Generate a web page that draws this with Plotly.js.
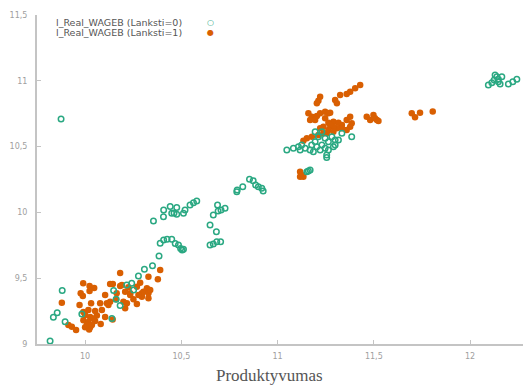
<!DOCTYPE html>
<html>
<head>
<meta charset="utf-8">
<script src="https://cdn.plot.ly/plotly-3.0.1.min.js"></script>
<style>html,body{margin:0;padding:0;background:#fff;}#chart{width:523px;height:387px;}</style>
</head>
<body>
<div id="chart"></div>
<script>
// Series Lanksti=0 (open green circles)
const x0 = [9.818,9.835,9.855,9.881,9.896,9.983,10.148,10.161,10.182,10.216,10.242,10.252,10.277,10.308,10.350,10.384,10.139,
  10.390,10.408,10.426,10.450,10.468,10.485,10.496,10.504,10.511,10.649,10.666,10.684,10.704,
  10.355,10.407,10.408,10.442,10.450,10.462,10.476,10.476,10.511,10.519,10.545,10.563,10.580,10.649,10.682,10.666,10.688,10.706,10.727,10.691,
  10.788,10.790,10.819,10.854,10.873,10.886,10.900,10.918,10.925,
  9.875,
  11.048,11.082,11.108,11.125,11.117,11.143,11.169,11.186,11.177,11.195,11.195,11.230,11.212,11.247,11.264,11.282,11.299,11.316,11.334,11.385,11.230,11.247,11.221,11.204,11.264,11.290,11.255,11.255,11.299,11.160,11.169,11.152,
  12.095,12.113,12.130,12.139,12.125,12.147,12.156,12.165,12.199,12.222,12.243,12.147];
const y0 = [9.023,9.203,9.238,9.407,9.169,9.228,9.407,9.340,9.293,9.448,9.461,9.410,9.517,9.568,9.595,9.669,9.194,
  9.765,9.790,9.796,9.796,9.764,9.752,9.726,9.714,9.720,9.752,9.760,9.777,9.777,
  9.935,9.967,10.018,10.045,9.993,9.995,10.037,9.986,9.993,10.018,10.056,10.074,10.087,9.904,9.853,9.980,10.056,10.018,10.031,10.011,
  10.157,10.170,10.195,10.252,10.241,10.208,10.195,10.183,10.163,
  10.710,
  10.474,10.487,10.499,10.512,10.474,10.487,10.474,10.461,10.512,10.537,10.613,10.613,10.575,10.563,10.537,10.575,10.550,10.550,10.601,10.575,10.512,10.487,10.474,10.499,10.474,10.499,10.436,10.417,10.512,10.315,10.322,10.309,
  10.968,10.986,11.044,11.031,11.006,10.993,10.976,11.031,10.976,10.993,11.011,11.011];

// Series Lanksti=1 (filled orange circles)
const x1 = [9.879,9.913,9.931,9.953,9.990,10.023,10.047,9.977,9.988,10.023,10.130,10.182,10.182,10.164,10.104,9.971,10.031,10.078,10.113,10.130,10.121,
  10.017,10.052,10.087,10.000,10.026,10.061,10.104,9.991,10.017,10.052,10.081,10.000,10.026,10.021,10.143,10.009,10.035,9.991,10.042,
  10.208,10.217,10.199,10.161,10.208,10.225,10.234,10.234,10.251,10.269,10.269,10.286,10.295,10.295,10.303,10.321,10.329,10.329,10.329,10.338,10.378,10.390,10.277,10.191,10.144,
  11.429,11.403,11.377,11.359,11.325,11.299,11.308,11.221,11.212,11.204,11.160,11.178,11.204,11.221,11.247,11.264,11.273,11.169,11.195,11.247,11.264,11.290,11.316,11.334,11.359,11.377,11.385,11.377,11.359,11.334,11.308,11.290,11.273,11.264,11.255,11.238,11.212,11.178,11.152,11.134,
  11.463,11.481,11.516,11.498,11.290,11.238,11.221,11.117,11.126,11.134,11.117,11.697,11.714,11.740,11.806,11.506,11.524];
const y1 = [9.314,9.144,9.131,9.106,9.461,9.441,9.426,9.385,9.365,9.403,9.456,9.540,9.441,9.385,9.372,9.296,9.309,9.309,9.309,9.321,9.296,
  9.258,9.251,9.258,9.220,9.205,9.217,9.205,9.180,9.167,9.175,9.152,9.127,9.127,9.110,9.186,9.144,9.144,9.243,9.194,
  9.271,9.309,9.321,9.340,9.397,9.431,9.385,9.372,9.340,9.435,9.304,9.466,9.385,9.359,9.397,9.423,9.511,9.385,9.347,9.410,9.492,9.562,9.372,9.448,9.456,
  10.968,10.943,10.917,10.900,10.892,10.854,10.829,10.879,10.849,10.829,10.753,10.727,10.733,10.753,10.765,10.753,10.758,10.702,10.702,10.715,10.682,10.689,10.682,10.664,10.702,10.727,10.677,10.651,10.626,10.639,10.639,10.651,10.664,10.626,10.601,10.601,10.588,10.575,10.563,10.545,
  10.727,10.702,10.702,10.740,10.613,10.651,10.639,10.309,10.284,10.271,10.271,10.753,10.723,10.758,10.767,10.715,10.695];

const name0 = 'l_Real_WAGEB (Lanksti=0)';
const name1 = 'l_Real_WAGEB (Lanksti=1)';
const xTitle = 'Produktyvumas';
const green = '#2aa882';
const orange = '#d95f02';

const traces = [
  {x: x1, y: y1, type: 'scatter', mode: 'markers', name: name1,
   marker: {symbol: 'circle', size: 6.5, color: orange, line: {width: 0}}, cliponaxis: false},
  {x: x0, y: y0, type: 'scatter', mode: 'markers', name: name0,
   marker: {symbol: 'circle-open', size: 5.5, color: green, line: {width: 1.5, color: green}}, cliponaxis: false}
];

const axisCommon = {
  showgrid: false, zeroline: false, showline: true, linecolor: '#c4c4c4', linewidth: 2,
  ticks: 'inside', ticklen: 4, tickwidth: 1, tickcolor: '#c4c4c4',
  tickfont: {family: 'DejaVu Sans', size: 8, color: '#a0a0a0'}, dtick: 0.5
};

const layout = {
  width: 523, height: 387,
  margin: {l: 37, r: 0, t: 15, b: 43},
  paper_bgcolor: '#fff', plot_bgcolor: '#fff',
  separators: ', ',
  showlegend: false,
  xaxis: Object.assign({}, axisCommon, {range: [9.75, 12.275], tick0: 10, ticklabelstandoff: 3}),
  yaxis: Object.assign({}, axisCommon, {range: [9, 11.5], tick0: 9, ticklabelstandoff: 6}),
  annotations: [
    {xref: 'paper', yref: 'paper', x: 0.479, y: -0.097, xanchor: 'center', yanchor: 'middle', showarrow: false,
     text: xTitle, font: {family: 'Liberation Serif', size: 17, color: '#555'}},
    {xref: 'paper', yref: 'paper', x: 0.035, y: 0.976, xanchor: 'left', yanchor: 'middle', showarrow: false,
     text: name0, font: {family: 'DejaVu Sans', size: 9.5, color: '#555'}},
    {xref: 'paper', yref: 'paper', x: 0.035, y: 0.946, xanchor: 'left', yanchor: 'middle', showarrow: false,
     text: name1, font: {family: 'DejaVu Sans', size: 9.5, color: '#555'}},
    {xref: 'paper', yref: 'paper', x: 0.356, y: 0.976, xanchor: 'center', yanchor: 'middle', showarrow: false,
     text: '○', font: {family: 'DejaVu Sans', size: 8, color: green}},
    {xref: 'paper', yref: 'paper', x: 0.356, y: 0.946, xanchor: 'center', yanchor: 'middle', showarrow: false,
     text: '●', font: {family: 'DejaVu Sans', size: 8, color: orange}}
  ]
};

Plotly.newPlot('chart', traces, layout, {displayModeBar: false, staticPlot: true});
</script>
</body>
</html>
